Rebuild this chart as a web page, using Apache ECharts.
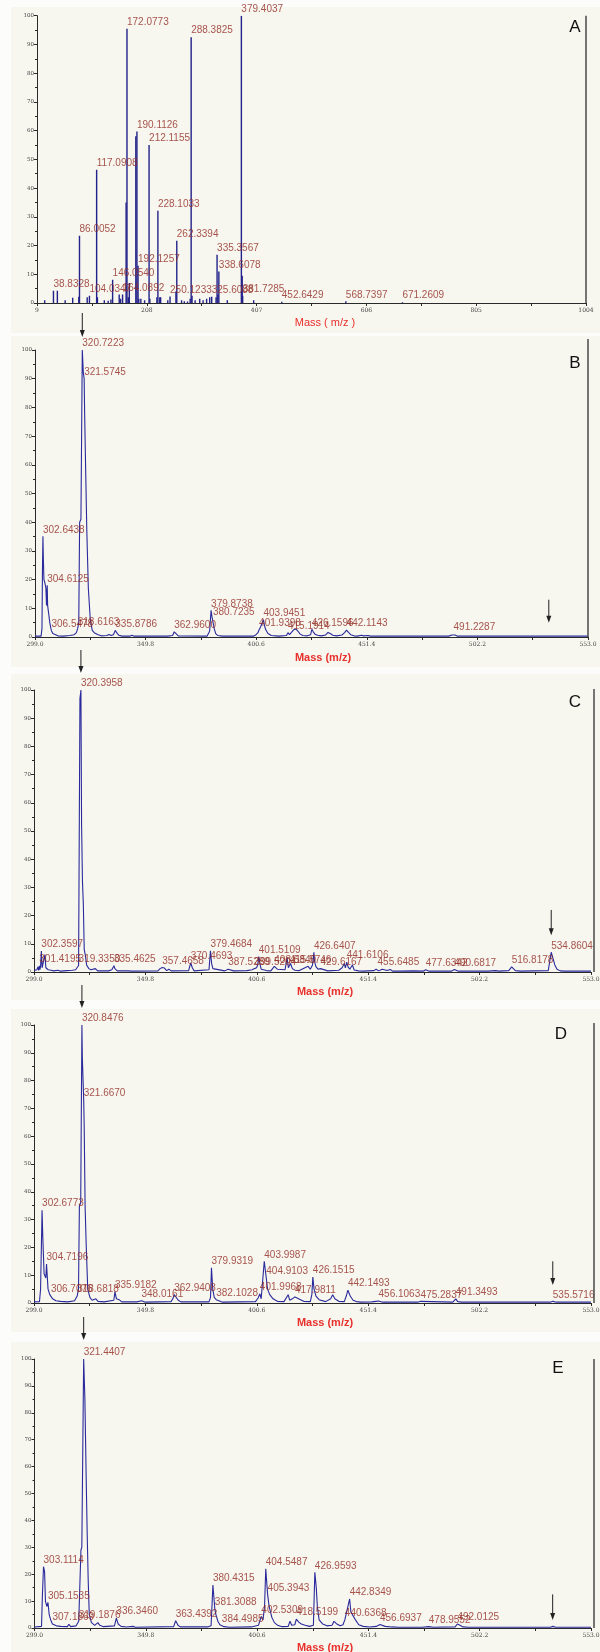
<!DOCTYPE html>
<html>
<head>
<meta charset="utf-8">
<script src="https://cdn.jsdelivr.net/npm/echarts@6/dist/echarts.min.js"></script>
<style>
  html, body { margin: 0; padding: 0; background: #ffffff; }
  #chart { width: 600px; height: 1652px; }
</style>
</head>
<body>
<div id="chart"></div>
<script>
// ---------- Panel A: centroided spectrum, m/z 9 – 1004 (stick plot) ----------
const aTickValues = [9, 208, 407, 606, 805, 1004];
const aMinorTickValues = [108.5, 307.5, 506.5, 705.5, 904.5];
// annotated peaks [m/z, relative intensity %]
const aLabeledPeaks = [
  [38.8328, 4.3], [86.0052, 23.4], [104.0347, 2.5], [117.0908, 46.4], [146.0540, 8.1],
  [164.0892, 3.0], [172.0773, 95.5], [190.1126, 59.7], [192.1257, 13.0], [212.1155, 55.0],
  [228.1033, 32.1], [250.1233, 2.3], [262.3394, 21.7], [288.3825, 92.5], [325.6088, 2.2],
  [335.3567, 16.8], [338.6078, 11.0], [379.4037, 100.0], [381.7285, 2.5], [452.6429, 0.4],
  [568.7397, 0.6], [671.2609, 0.3]
];
// remaining sticks without annotation
const aOtherPeaks = [
  [22.9, 1.0], [45.9, 4.3], [60.0, 1.0], [73.7, 1.8], [84.8, 2.2], [100.0, 2.0], [118.5, 2.0],
  [131.0, 1.0], [138.0, 0.8], [143.0, 1.2], [158.0, 3.0], [160.5, 1.5], [170.5, 35.0],
  [174.5, 2.0], [176.3, 7.0], [188.1, 58.0], [193.5, 1.5], [197.2, 1.5], [204.0, 1.0],
  [213.5, 1.5], [226.3, 2.0], [231.5, 2.0], [233.1, 2.0], [246.0, 1.0], [260.8, 4.0],
  [271.0, 1.0], [276.0, 0.6], [281.8, 0.5], [286.6, 1.5], [290.0, 2.5], [295.6, 1.0],
  [303.9, 1.5], [310.0, 1.0], [316.4, 1.5], [322.0, 2.0], [333.5, 2.0], [336.8, 3.0],
  [353.9, 1.0], [380.9, 9.5], [401.7, 1.0]
];

// ---------- Panels B–E: profile spectra, m/z 299 – 553 ----------
const msTickValues = [299.0, 349.8, 400.6, 451.4, 502.2, 553.0];
const msMinorTickValues = [324.4, 375.2, 426.0, 476.8, 527.6];

const bLabeledPeaks = [
  [302.6438, 35.1], [304.6125, 18.0], [306.5478, 2.2], [318.6163, 3.0], [320.7223, 100.0],
  [321.5745, 90.0], [335.8786, 2.3], [362.9600, 1.8], [379.8738, 9.3], [380.7235, 6.4],
  [401.9398, 2.5], [403.9451, 6.0], [415.1914, 1.5], [426.1596, 2.7], [442.1143, 2.4],
  [491.2287, 1.2]
];
const bProfile = [
  [299.0, 0.3], [301.8, 0.3], [302.2, 3], [302.45, 25], [302.85, 27], [303.1, 20], [303.5, 19],
  [304.0, 17], [304.3, 11], [304.8, 11], [305.3, 8], [305.8, 5], [306.3, 3], [307.2, 1.2],
  [308.0, 0.6], [309.5, 0.4], [312.0, 0.3], [315.0, 0.5], [317.0, 0.8], [318.0, 1.5],
  [319.1, 5], [319.5, 40], [320.1, 41], [321.2, 92], [321.8, 78], [322.3, 57], [322.8, 37],
  [323.5, 17], [324.4, 6], [325.3, 2.3], [326.2, 1.5], [327.0, 1.3], [328.0, 0.8],
  [329.5, 0.4], [332.0, 0.5], [333.0, 0.9], [334.0, 0.5], [335.0, 0.8], [336.5, 1.5],
  [337.5, 0.6], [339.0, 0.3], [342.5, 0.3], [343.5, 0.6], [344.5, 0.3], [360.0, 0.3],
  [362.2, 0.5], [363.8, 1.2], [364.8, 0.4], [378.0, 0.3], [379.2, 2], [380.3, 7], [381.3, 3],
  [382.0, 1.2], [383.0, 0.5], [385.0, 0.3], [399.5, 0.3], [400.5, 0.8], [401.4, 1.5],
  [402.6, 3.5], [403.2, 3.2], [404.4, 4], [405.0, 2.5], [406.0, 1.2], [407.5, 0.5],
  [411.0, 0.3], [414.5, 0.5], [415.9, 0.8], [416.8, 1.2], [417.8, 2.5], [418.8, 2.8],
  [419.8, 2], [420.8, 1], [422.0, 0.5], [424.0, 0.4], [425.6, 0.8], [426.8, 1.8],
  [427.6, 1], [428.8, 0.6], [430.5, 0.4], [432.5, 0.7], [433.6, 1.6], [434.6, 1.2],
  [435.8, 0.6], [437.5, 0.4], [440.0, 0.7], [441.2, 1.5], [443.0, 1.6], [444.0, 0.8],
  [445.5, 0.4], [447.0, 0.3], [449.0, 0.6], [450.0, 0.4], [452.0, 0.5], [453.0, 0.3],
  [489.0, 0.3], [490.5, 0.7], [492.0, 0.7], [493.0, 0.3], [553.0, 0.3]
];

const cLabeledPeaks = [
  [301.4195, 2.2], [302.3597, 7.4], [319.3350, 2.3], [320.3958, 100.0], [335.4625, 2.2],
  [357.4658, 1.6], [370.4693, 3.2], [379.4684, 7.5], [387.5289, 1.0], [399.5204, 1.2],
  [401.5109, 5.5], [408.5840, 2.0], [415.5746, 1.8], [426.6407, 7.0], [429.6167, 1.2],
  [441.6106, 3.5], [455.6485, 1.3], [477.6342, 0.8], [490.6817, 0.9], [516.8178, 1.8],
  [534.8604, 7.0]
];
const cProfile = [
  [299.0, 0.5], [300.3, 0.8], [300.8, 1.8], [301.1, 0.6], [301.7, 0.8], [302.0, 2],
  [302.7, 1.5], [303.0, 0.8], [303.5, 1.2], [304.0, 6.2], [304.4, 1.5], [305.0, 1.8],
  [305.5, 0.8], [306.2, 1.5], [306.8, 0.6], [308.0, 0.4], [310.0, 0.6], [311.0, 0.3],
  [314.0, 0.5], [316.5, 0.6], [318.0, 0.8], [318.8, 1.5], [319.7, 3], [319.95, 97],
  [320.7, 52], [321.1, 32], [321.5, 24], [321.9, 8], [322.4, 6], [323.0, 2.5], [324.0, 1.2],
  [325.0, 0.8], [327.0, 1.2], [328.0, 0.4], [333.0, 0.4], [334.5, 0.8], [335.9, 1.2],
  [337.0, 0.4], [342.0, 0.4], [342.8, 0.9], [343.5, 0.3], [355.5, 0.4], [356.5, 1.2],
  [357.0, 0.5], [358.5, 1.4], [359.5, 0.5], [360.5, 1], [361.5, 0.4], [369.5, 0.5],
  [371.2, 1.5], [372.0, 0.4], [378.8, 0.8], [380.0, 3], [380.6, 1.2], [381.5, 0.5],
  [386.0, 0.4], [388.3, 0.6], [390.0, 0.4], [396.0, 0.5], [398.5, 0.8], [400.5, 1.5],
  [401.0, 2.5], [402.0, 3], [402.6, 1], [403.5, 0.8], [405.0, 0.5], [407.0, 0.4],
  [409.2, 2.5], [410.0, 1], [413.5, 0.8], [414.4, 5], [415.0, 1.5], [416.0, 3], [416.8, 1.2],
  [418.0, 0.6], [420.0, 0.5], [424.0, 2], [425.0, 1], [426.0, 2.5], [426.9, 4], [427.5, 2],
  [428.5, 1], [430.0, 0.5], [433.0, 0.4], [438.0, 0.6], [439.5, 1.5], [440.5, 3],
  [441.0, 1.5], [442.2, 1.8], [443.0, 1], [444.2, 2.5], [445.0, 0.7], [447.0, 0.4],
  [449.0, 0.3], [454.0, 0.5], [455.0, 1], [456.2, 0.4], [457.8, 1], [458.5, 0.3],
  [460.0, 0.5], [461.5, 0.9], [462.5, 0.3], [466.0, 0.3], [472.0, 0.4], [476.5, 0.3],
  [478.5, 0.7], [479.2, 0.3], [489.5, 0.3], [491.5, 0.9], [492.5, 0.3], [506.0, 0.3],
  [509.5, 0.5], [511.0, 0.3], [515.5, 0.5], [517.5, 1.2], [518.5, 0.5], [521.0, 0.3],
  [533.5, 0.5], [535.8, 4.5], [536.5, 2.5], [537.5, 1], [539.0, 0.4], [541.0, 0.3],
  [553.0, 0.3]
];

const dLabeledPeaks = [
  [302.6773, 33.4], [304.7196, 14.0], [306.7076, 2.5], [318.6818, 2.5], [320.8476, 100.0],
  [321.6670, 73.0], [335.9182, 4.0], [348.0161, 0.8], [362.9408, 3.0], [379.9319, 12.7],
  [382.1028, 1.2], [401.9968, 3.3], [403.9987, 15.0], [404.9103, 9.0], [417.9811, 2.2],
  [426.1515, 9.3], [442.1493, 4.6], [456.1063, 0.7], [475.2837, 0.6], [491.3493, 1.5],
  [535.5716, 0.6]
];
const dProfile = [
  [299.0, 0.4], [301.5, 0.5], [302.0, 5], [303.0, 24], [303.6, 10.5], [304.2, 10],
  [304.4, 9], [305.4, 5], [306.2, 3], [307.5, 1.5], [309.0, 0.8], [311.0, 0.6],
  [314.5, 0.4], [317.5, 0.8], [319.3, 5], [319.7, 35], [320.3, 36], [321.05, 88],
  [321.4, 88], [321.9, 63], [322.3, 35], [322.8, 21], [323.5, 5], [324.5, 2], [325.5, 1],
  [327.2, 1.5], [328.2, 0.6], [331.0, 0.4], [335.4, 1], [336.6, 1.5], [337.8, 1.2],
  [339.0, 0.4], [346.0, 0.4], [349.0, 0.5], [350.0, 0.3], [361.5, 0.5], [362.3, 1.5],
  [363.8, 2.4], [364.8, 1], [366.0, 0.4], [378.8, 0.4], [379.5, 2], [380.5, 5], [381.2, 2],
  [383.0, 0.5], [385.0, 0.3], [400.0, 0.5], [401.2, 1.8], [402.6, 1.5], [403.4, 2],
  [405.5, 5], [406.5, 3], [408.0, 1.5], [410.0, 0.6], [413.0, 0.5], [414.9, 3], [415.6, 1],
  [416.8, 1.5], [419.0, 1.8], [420.5, 1.2], [422.0, 0.6], [425.0, 0.5], [425.7, 3],
  [426.7, 5], [427.6, 2.5], [429.0, 1.2], [432.0, 0.5], [434.3, 1.5], [435.2, 3],
  [436.2, 1.5], [438.0, 0.6], [440.5, 0.5], [441.4, 2.5], [443.2, 2.5], [444.5, 1],
  [446.0, 0.5], [448.0, 0.3], [453.0, 0.4], [455.0, 0.6], [458.0, 0.3], [474.0, 0.3],
  [490.0, 0.3], [490.8, 0.8], [492.2, 0.5], [494.0, 0.3], [534.5, 0.3], [536.5, 0.4],
  [537.5, 0.3], [553.0, 0.3]
];

const eLabeledPeaks = [
  [303.1114, 22.8], [305.1535, 9.5], [307.1869, 1.5], [319.1876, 2.5], [321.4407, 100.0],
  [336.3460, 3.7], [363.4392, 2.7], [380.4315, 16.0], [381.3088, 7.0], [384.4985, 1.0],
  [402.5309, 4.3], [404.5487, 22.0], [405.3943, 12.5], [418.5199, 3.3], [426.9593, 20.7],
  [440.6368, 3.0], [442.8349, 10.8], [456.6937, 1.3], [478.9552, 0.5], [492.0125, 1.5]
];
const eProfile = [
  [299.0, 0.4], [302.2, 0.6], [302.6, 12], [303.6, 21], [304.0, 10], [304.6, 8], [305.7, 5],
  [306.4, 3], [307.8, 1], [309.0, 0.8], [311.0, 0.6], [314.0, 0.5], [314.7, 1.4],
  [315.5, 0.5], [318.0, 0.8], [320.2, 29], [320.6, 30], [322.0, 85], [322.5, 60],
  [323.0, 37], [323.5, 18], [324.0, 5], [325.0, 2], [326.5, 1], [327.9, 2], [328.8, 1],
  [330.5, 0.5], [335.5, 0.8], [337.2, 1.5], [338.5, 0.6], [341.0, 0.4], [344.0, 0.6],
  [345.0, 0.3], [362.5, 0.5], [364.5, 1], [365.5, 0.4], [378.0, 0.4], [379.6, 0.8],
  [380.0, 8], [381.8, 5], [382.7, 2.5], [383.6, 1.2], [385.5, 0.5], [388.0, 0.3],
  [398.0, 0.4], [401.2, 1], [401.8, 2.5], [403.3, 3], [404.0, 8], [406.1, 8], [407.3, 4],
  [408.5, 2], [410.0, 1], [412.0, 0.5], [414.8, 0.6], [415.6, 2.5], [416.4, 1], [417.8, 1.2],
  [419.6, 2.2], [420.8, 1.5], [422.5, 1], [424.5, 0.6], [426.3, 1], [427.6, 15], [428.1, 8],
  [428.9, 3], [430.5, 1.5], [432.5, 0.8], [434.8, 1], [435.7, 2.5], [436.8, 1.6],
  [438.5, 0.8], [439.8, 1.2], [441.4, 3.2], [443.4, 6], [444.2, 6], [445.5, 3], [447.0, 1.2],
  [449.0, 0.6], [452.0, 0.4], [455.0, 0.6], [457.5, 1.3], [459.0, 0.6], [462.0, 0.4],
  [465.0, 0.3], [476.0, 0.3], [479.8, 0.6], [481.0, 0.3], [491.0, 0.4], [493.2, 1],
  [494.5, 0.4], [497.0, 0.3], [534.5, 0.3], [535.6, 0.6], [536.8, 0.3], [553.0, 0.3]
];

// base peak marked from above, and precursor marked at the high-mass end
const topArrowMz = [320.7223, 320.3958, 320.8476, 321.4407];
const sideArrowMz = [535.0, 534.8604, 535.5716, 535.5];

// ---------- layout ----------
const PANEL_BG = '#f7f6ef';
const GAP_BG = '#fcfcfa';
const LINE_BLUE = '#2a2a9c';
const STICK_BLUE = '#22228a';
const LABEL_RED = '#912b22';
const AXIS_DARK = '#2a2a2a';
const TICK_TEXT = '#444444';

const grids = [
  { left: 37,   top: 15.7, width: 549,   height: 287.3 },
  { left: 35,   top: 350,  width: 553,   height: 287 },
  { left: 34,   top: 690,  width: 557,   height: 282 },
  { left: 34,   top: 1025, width: 557,   height: 278 },
  { left: 34.5, top: 1359, width: 556.5, height: 269 }
];
const panelBands = [[7, 333], [336, 667], [674, 1000], [1009, 1332], [1342, 1652]];
const letters = [['A', 575, 27], ['B', 575, 363], ['C', 575, 702], ['D', 561, 1034], ['E', 558, 1368]];
const massTitles = [
  ['Mass ( m/z )', 325, 323, 'normal'], ['Mass (m/z)', 323, 658, 'bold'],
  ['Mass (m/z)', 325, 992, 'bold'], ['Mass (m/z)', 325, 1323, 'bold'],
  ['Mass (m/z)', 325, 1648, 'bold']
];
const rightRules = [[586, 15.7, 303], [588, 339, 637], [594, 689, 972], [594, 1023, 1303], [594, 1359, 1628]];
// vertical pixel spans of the arrows above panels B–E
const topArrowSpan = [[313, 337], [650, 673], [985, 1008], [1317, 1340]];
// intensity spans of the arrows at the precursor in panels B–E
const sideArrowSpan = [[13, 5], [22, 13], [15, 6.5], [12.5, 3]];

function xAxisFor(i, min, max, majors, minors, fmt) {
  return {
    gridIndex: i, type: 'value', min: min, max: max,
    axisLine: { show: true, onZero: false, lineStyle: { color: AXIS_DARK, width: 1 } },
    axisTick: { show: true, length: 3, customValues: majors.concat(minors), lineStyle: { color: AXIS_DARK } },
    axisLabel: { customValues: majors, formatter: fmt, fontSize: 6, color: TICK_TEXT, margin: 4,
                 fontFamily: 'DejaVu Serif' },
    splitLine: { show: false }
  };
}
function yAxisFor(i) {
  return {
    gridIndex: i, type: 'value', min: 0, max: 100, interval: 10,
    axisLine: { show: true, lineStyle: { color: AXIS_DARK, width: 1 } },
    axisTick: { show: true, length: 3, lineStyle: { color: AXIS_DARK } },
    minorTick: { show: true, splitNumber: 2, length: 2, lineStyle: { color: AXIS_DARK } },
    axisLabel: { fontSize: 5.5, color: TICK_TEXT, margin: 3, fontFamily: 'DejaVu Serif' },
    splitLine: { show: false }
  };
}
function labelSeries(i, data) {
  return {
    type: 'scatter', xAxisIndex: i, yAxisIndex: i, data: data, silent: true,
    symbol: 'circle', symbolSize: 1, itemStyle: { color: 'rgba(0,0,0,0)' }, z: 5,
    label: {
      show: true, position: 'top', distance: 1, align: 'left',
      formatter: p => p.value[0].toFixed(4),
      color: LABEL_RED, fontSize: 10, fontFamily: 'Liberation Sans, Arial, sans-serif'
    },
    labelLayout: { hideOverlap: false }
  };
}
function profileSeries(i, profile, peaks) {
  const pts = profile.concat(peaks).sort((p, q) => p[0] - q[0]);
  return {
    type: 'line', xAxisIndex: i, yAxisIndex: i, data: pts, showSymbol: false, symbol: 'none',
    silent: true, clip: true, lineStyle: { color: LINE_BLUE, width: 1.1 }, z: 3
  };
}
function stickSeries(i, data) {
  return {
    type: 'custom', xAxisIndex: i, yAxisIndex: i, data: data, silent: true, clip: true, z: 3,
    encode: { x: 0, y: 1 },
    renderItem: function (params, api) {
      const base = api.coord([api.value(0), 0]);
      const top = api.coord([api.value(0), api.value(1)]);
      return {
        type: 'line',
        shape: { x1: base[0], y1: base[1], x2: top[0], y2: top[1] },
        style: { stroke: STICK_BLUE, lineWidth: 1.4 }
      };
    }
  };
}

const msFmt = v => v.toFixed(1);
const aFmt = v => String(Math.round(v));

const option = {
  animation: false,
  backgroundColor: GAP_BG,
  grid: grids.map(g => Object.assign({ containLabel: false, outerBoundsMode: 'none' }, g)),
  xAxis: [
    xAxisFor(0, 9, 1004, aTickValues, aMinorTickValues, aFmt),
    xAxisFor(1, 299, 553, msTickValues, msMinorTickValues, msFmt),
    xAxisFor(2, 299, 553, msTickValues, msMinorTickValues, msFmt),
    xAxisFor(3, 299, 553, msTickValues, msMinorTickValues, msFmt),
    xAxisFor(4, 299, 553, msTickValues, msMinorTickValues, msFmt)
  ],
  yAxis: [0, 1, 2, 3, 4].map(yAxisFor),
  series: [
    stickSeries(0, aOtherPeaks),
    stickSeries(0, aLabeledPeaks),
    labelSeries(0, aLabeledPeaks),
    profileSeries(1, bProfile, bLabeledPeaks),
    labelSeries(1, bLabeledPeaks),
    profileSeries(2, cProfile, cLabeledPeaks),
    labelSeries(2, cLabeledPeaks),
    profileSeries(3, dProfile, dLabeledPeaks),
    labelSeries(3, dLabeledPeaks),
    profileSeries(4, eProfile, eLabeledPeaks),
    labelSeries(4, eLabeledPeaks)
  ]
};

const chart = echarts.init(document.getElementById('chart'), null, { renderer: 'canvas' });
chart.setOption(option);

// static decoration: panel backgrounds, letters, axis titles, right-hand rules, arrows
function arrow(x, y1, y2) {
  return {
    type: 'group', z: 20, children: [
      { type: 'line', shape: { x1: x, y1: y1, x2: x, y2: y2 - 5 }, style: { stroke: '#222', lineWidth: 1 } },
      { type: 'polygon', shape: { points: [[x - 2.5, y2 - 7], [x + 2.5, y2 - 7], [x, y2]] }, style: { fill: '#222' } }
    ]
  };
}
const elements = [];
panelBands.forEach(b => {
  elements.push({ type: 'rect', z: -100, shape: { x: 11, y: b[0], width: 589, height: b[1] - b[0] },
                  style: { fill: PANEL_BG } });
});
letters.forEach(l => {
  elements.push({ type: 'text', z: 20, style: { text: l[0], x: l[1], y: l[2], fill: '#111',
                  font: '17px "Liberation Sans", Arial, sans-serif', align: 'center', verticalAlign: 'middle' } });
});
massTitles.forEach(t => {
  elements.push({ type: 'text', z: 20, style: { text: t[0], x: t[1], y: t[2], fill: '#e8302c',
                  font: t[3] + ' 11px "Liberation Sans", Arial, sans-serif', align: 'center', verticalAlign: 'middle' } });
});
rightRules.forEach(r => {
  elements.push({ type: 'line', z: 20, shape: { x1: r[0], y1: r[1], x2: r[0], y2: r[2] },
                  style: { stroke: '#4a4a4a', lineWidth: 1.5 } });
});
topArrowMz.forEach((mz, k) => {
  const px = chart.convertToPixel({ gridIndex: k + 1 }, [mz, 0])[0];
  elements.push(arrow(px, topArrowSpan[k][0], topArrowSpan[k][1]));
});
sideArrowMz.forEach((mz, k) => {
  const p1 = chart.convertToPixel({ gridIndex: k + 1 }, [mz, sideArrowSpan[k][0]]);
  const p2 = chart.convertToPixel({ gridIndex: k + 1 }, [mz, sideArrowSpan[k][1]]);
  elements.push(arrow(p1[0], p1[1], p2[1]));
});
chart.setOption({ graphic: { elements: elements } });
</script>
</body>
</html>
